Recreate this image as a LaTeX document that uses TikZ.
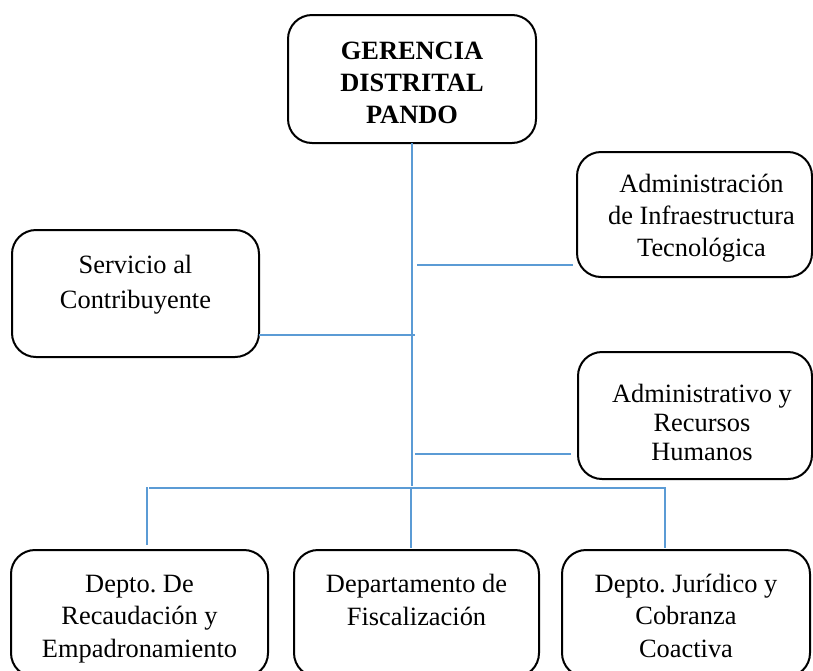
\documentclass[tikz,border=0pt]{standalone}
\usepackage{fontspec}
\setmainfont{Liberation Serif}
\definecolor{connblue}{HTML}{5B9BD5}
% width, height, top pad, baselineskip, left shift, content
\newcommand{\bxtext}[6]{\parbox[c][#2][t]{#1}{\fontsize{26.4pt}{#4}\selectfont\frenchspacing\centering\leftskip=#5 plus 1fil\relax\vspace*{#3}\strut #6}}
\begin{document}
\begin{tikzpicture}[x=1pt,y=-1pt,
  orgbox/.style={draw=black, line width=2pt, rounded corners=24pt, inner sep=0pt, outer sep=0pt},
  conn/.style={draw=connblue, line width=1.5pt}]
\path[use as bounding box, clip] (0,0) rectangle (813,670);
\fill[white] (0,0) rectangle (813,670);

% boxes
\node[orgbox] (top) at (412,79) {\bxtext{248pt}{128pt}{21.6pt}{32pt}{0pt}{\bfseries GERENCIA\\DISTRITAL\\PANDO}};
\node[orgbox] (infra) at (694.5,214.5) {\bxtext{235pt}{125pt}{17.6pt}{32pt}{14pt}{Administración\\de Infraestructura\\Tecnológica}};
\node[orgbox] (serv) at (135.5,293.5) {\bxtext{247pt}{127pt}{18.5pt}{35pt}{0pt}{Servicio al\\Contribuyente}};
\node[orgbox] (rrhh) at (695,415.5) {\bxtext{234pt}{127pt}{29.7pt}{29pt}{14pt}{Administrativo y\\Recursos\\Humanos}};
\node[orgbox] (dep1) at (139.5,613.5) {\bxtext{257pt}{127pt}{19.25pt}{32.5pt}{0pt}{Depto. De\\Recaudación y\\Empadronamiento}};
\node[orgbox] (dep2) at (416.5,613.5) {\bxtext{245pt}{127pt}{19.25pt}{33pt}{0pt}{Departamento de\\Fiscalización}};
\node[orgbox] (dep3) at (686,613.5) {\bxtext{248pt}{127pt}{19.25pt}{32.5pt}{0pt}{Depto. Jurídico y\\Cobranza\\Coactiva}};

% connectors
\coordinate (tj) at (412,486);
\draw[conn] (top.south) -- (tj);
\coordinate (jI) at (417,265);
\draw[conn, shorten >=4pt] (jI) -- (jI -| infra.west);
\coordinate (jS) at (415,335);
\draw[conn] (serv.east |- jS) -- (jS);
\coordinate (jR) at (415,454);
\draw[conn, shorten >=7pt] (jR) -- (jR -| rrhh.west);
\coordinate (bL) at (149,488);
\coordinate (bR) at (666,488);
\draw[conn] (bL) -- (bR);
\coordinate (d1) at (147,487);
\draw[conn, shorten >=5pt] (d1) -- (d1 |- dep1.north);
\coordinate (d2) at (411,488);
\draw[conn, shorten >=2pt] (d2) -- (d2 |- dep2.north);
\coordinate (d3) at (665,488);
\draw[conn, shorten >=2pt] (d3) -- (d3 |- dep3.north);
\end{tikzpicture}
\end{document}
